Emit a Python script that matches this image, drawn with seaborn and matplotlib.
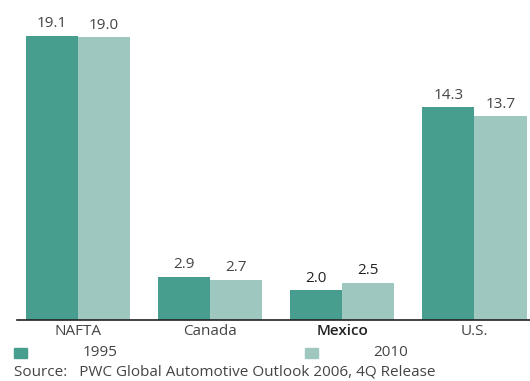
import matplotlib
matplotlib.use("Agg")
import matplotlib.pyplot as plt
import seaborn as sns
import pandas as pd

regions = ["NAFTA", "Canada", "Mexico", "U.S."]
years = ["1995", "2010"]
v1995 = [19.1, 2.9, 2.0, 14.3]
v2010 = [19.0, 2.7, 2.5, 13.7]
colors = ["#489e8e", "#9ec8bf"]

df = pd.DataFrame({
    "region": regions * 2,
    "year": [years[0]] * 4 + [years[1]] * 4,
    "value": v1995 + v2010,
})

sns.set_style("white")
plt.rcParams["font.family"] = ["Open Sans", "DejaVu Sans"]

W, H = 530, 381
fig = plt.figure(figsize=(W / 100, H / 100), dpi=100)
ax = fig.add_axes([17 / W, (H - 320) / H, 513 / W, 320 / H])
sns.barplot(data=df, x="region", y="value", hue="year", palette=colors,
            width=0.79, ax=ax, legend=False, saturation=1, linewidth=0,
            edgecolor="none")

ax.set_xlim(-0.46, 3.42)
ax.set_ylim(0, 21.5)
for s in ["top", "right", "left"]:
    ax.spines[s].set_visible(False)
ax.spines["bottom"].set_color("#222222")
ax.spines["bottom"].set_linewidth(1.2)
ax.set_yticks([])
ax.set_xlabel("")
ax.set_ylabel("")
ax.tick_params(axis="x", length=0, pad=3, labelsize=11, labelcolor="#444444")
for lbl in ax.get_xticklabels():
    if lbl.get_text() == "Mexico":
        lbl.set_color("#222222")
        lbl.set_fontweight("semibold")

for i, cont in enumerate(ax.containers):
    for j, bar in enumerate(cont):
        val = bar.get_height()
        col = "#222222" if regions[j] == "Mexico" else "#444444"
        ax.text(bar.get_x() + bar.get_width() / 2, val + 0.3, f"{val:.1f}",
                ha="center", va="bottom", fontsize=11, color=col)

# legend
for x, lab, c, tx in [(14, years[0], colors[0], 83), (305, years[1], colors[1], 373)]:
    fig.patches.append(plt.Rectangle((x / W, (H - 358) / H), 13 / W, 10 / H,
                                     transform=fig.transFigure, color=c))
    fig.text(tx / W, (H - 353) / H, lab, ha="left", va="center",
             fontsize=11, color="#444444")
fig.text(14 / W, (H - 372) / H, "Source:   PWC Global Automotive Outlook 2006, 4Q Release",
         ha="left", va="center", fontsize=11, color="#444444")

fig.savefig("out.png", dpi=100)
